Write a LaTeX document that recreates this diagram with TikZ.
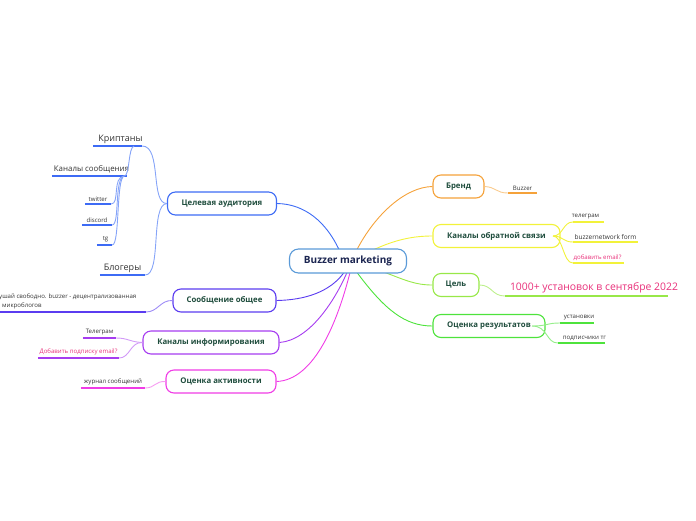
\documentclass[tikz,border=0pt]{standalone}
\usepackage{fontspec}
\setmainfont{Open Sans}
\definecolor{cBlue}{HTML}{3D6BF5}
\definecolor{cBlueL}{HTML}{86A4F8}
\definecolor{cInd}{HTML}{5B3CF0}
\definecolor{cIndL}{HTML}{9E8CF6}
\definecolor{cPur}{HTML}{A63CF0}
\definecolor{cPurL}{HTML}{D29AF7}
\definecolor{cMag}{HTML}{F03CE6}
\definecolor{cMagL}{HTML}{F69CF1}
\definecolor{cOr}{HTML}{F5A23A}
\definecolor{cOrL}{HTML}{F9CB8E}
\definecolor{cYel}{HTML}{F2F23A}
\definecolor{cYelL}{HTML}{F5F58A}
\definecolor{cLime}{HTML}{98E848}
\definecolor{cLimeL}{HTML}{BDF08C}
\definecolor{cGrn}{HTML}{4EE33C}
\definecolor{cGrnL}{HTML}{95EE8A}
\definecolor{cPink}{HTML}{E8307A}
\definecolor{cText}{HTML}{1F4D3D}
\definecolor{cRoot}{HTML}{5A9AD8}
\definecolor{cRootT}{HTML}{1A2450}
\definecolor{cLeafT}{HTML}{333333}
\tikzset{
  rootbox/.style={draw=cRoot, line width=1.1pt, fill=white, rounded corners=9pt, minimum height=24pt, text=cRootT, font=\bfseries\fontsize{10}{12}\selectfont},
  branch/.style={draw=#1, line width=1.1pt, fill=white, rounded corners=8pt, minimum height=23pt, text=cText, font=\bfseries\fontsize{7.8}{9}\selectfont},
  leaf/.style={anchor=south, inner xsep=0pt, inner ysep=2.5pt, text=cLeafT, font=\fontsize{6.1}{7.5}\selectfont},
  bigleaf/.style={leaf, font=\fontsize{9}{11}\selectfont},
  ul/.style={draw=#1, line width=1.6pt},
  conn/.style={draw=#1, line width=0.9pt},
}
\begin{document}
\begin{tikzpicture}[x=1pt,y=-1pt]
\useasboundingbox (0,0) rectangle (696,520);

% root connection points
\coordinate (r1) at (339,249.5);
\coordinate (r2) at (357,249.5);
\coordinate (r3) at (374,249.5);
\coordinate (r4) at (385,272.5);
\coordinate (r5) at (357,272.5);
\coordinate (r6) at (344,272.5);
\coordinate (r7) at (347,272.5);
\coordinate (r8) at (350,272.5);

% branches
\node[branch=cBlue, minimum width=109pt] (cel) at (222,203.5) {Целевая аудитория};
\node[branch=cInd, minimum width=103pt] (som) at (224.5,300.5) {Сообщение общее};
\node[branch=cPur, minimum width=136pt] (kin) at (211,342.5) {Каналы информирования};
\node[branch=cMag, minimum width=110pt] (oak) at (221,381.5) {Оценка активности};
\node[branch=cOr, minimum width=51pt] (brd) at (458.5,186.5) {Бренд};
\node[branch=cYel, minimum width=127pt] (kos) at (496.5,236) {Каналы обратной связи};
\node[branch=cLime, minimum width=46pt] (cel2) at (456,285) {Цель};
\node[branch=cGrn, minimum width=112pt] (ores) at (489,326) {Оценка результатов};

% root connectors
\draw[conn=cBlue] (cel.east) .. controls (305,204) and (326,222) .. (r1);
\draw[conn=cInd] (som.east) .. controls (305,300) and (330,292) .. (r6);
\draw[conn=cPur] (kin.east) .. controls (310,340) and (335,300) .. (r7);
\draw[conn=cMag] (oak.east) .. controls (315,380) and (338,320) .. (r8);
\draw[conn=cOr] (r2) .. controls (375,215) and (405,187) .. (brd.west);
\draw[conn=cYel] (r3) .. controls (395,240) and (412,236) .. (kos.west);
\draw[conn=cLime] (r4) .. controls (405,280) and (415,285) .. (cel2.west);
\draw[conn=cGrn] (r5) .. controls (385,310) and (405,326) .. (ores.west);

% root
\node[rootbox, minimum width=117pt] (root) at (348,261) {Buzzer marketing};

% ---- left leaves: Целевая аудитория
\node[bigleaf, minimum width=49pt] (kr) at (117.5,146) {\makebox[0pt]{\hspace*{6pt}Криптаны}};
\node[bigleaf, minimum width=75pt, font=\fontsize{7.9}{9.5}\selectfont] (ks) at (89.5,176) {\makebox[0pt]{\hspace*{4pt}Каналы сообщения}};
\node[leaf, minimum width=26pt] (tw) at (98,204) {twitter};
\node[leaf, minimum width=30pt] (dc) at (97,225) {discord};
\node[leaf, minimum width=15pt] (tg) at (104.5,245) {\hspace*{2pt}tg};
\node[bigleaf, minimum width=45pt] (bl) at (122.5,275) {Блогеры};
\foreach \n in {kr,ks,tw,dc,tg,bl} \draw[ul=cBlue] (\n.south west) -- (\n.south east);
\draw[conn=cBlueL] (cel.west) .. controls (150,204) and (162,146) .. (kr.south east);
\draw[conn=cBlueL] ([xshift=-8pt]kr.south east) .. controls (128,147) and (130,176) .. ([xshift=-3pt]ks.south east);
\draw[conn=cBlueL] ([xshift=-3pt]ks.south east) .. controls (112,177) and (120,204) .. (tw.south east);
\draw[conn=cBlueL] ([xshift=-3pt]ks.south east) .. controls (114,178) and (120,225) .. (dc.south east);
\draw[conn=cBlueL] ([xshift=-3pt]ks.south east) .. controls (116,178) and (120,245) .. (tg.south east);
\draw[conn=cBlueL] (cel.west) .. controls (150,204) and (162,275) .. (bl.south east);

% Сообщение общее
\node[leaf, anchor=south west, align=left, inner ysep=3pt, font=\fontsize{6.1}{8.8}\selectfont] (msg) at (-1,312) {ушай свободно. buzzer - децентрализованная\\\hspace*{3pt}микроблогов};
\coordinate (msgR) at (146,312);
\draw[ul=cInd] (0,312) -- (msgR);
\draw[conn=cIndL] (som.west) .. controls (160,300) and (158,312) .. (msgR);

% Каналы информирования
\node[leaf, minimum width=33pt] (tel) at (99.5,338) {Телеграм};
\node[leaf, minimum width=81pt, text=cPink] (dob) at (78.5,358) {Добавить подписку email?};
\foreach \n in {tel,dob} \draw[ul=cPur] (\n.south west) -- (\n.south east);
\draw[conn=cPurL] (kin.west) .. controls (130,342) and (128,338) .. (tel.south east);
\draw[conn=cPurL] (kin.west) .. controls (130,342) and (130,358) .. (dob.south east);

% Оценка активности
\node[leaf, minimum width=64pt] (jur) at (113,388) {журнал сообщений};
\draw[ul=cMag] (jur.south west) -- (jur.south east);
\draw[conn=cMagL] (oak.west) .. controls (155,381) and (155,388) .. (jur.south east);

% ---- right leaves
\node[leaf, minimum width=29pt] (buz) at (522.5,193) {Buzzer};
\draw[ul=cOr] (buz.south west) -- (buz.south east);
\draw[conn=cOrL] (brd.east) .. controls (496,187) and (496,193) .. (buz.south west);

\node[leaf, minimum width=31pt] (tlg) at (588.5,222) {\makebox[0pt]{\hspace*{-6pt}телеграм}};
\node[leaf, minimum width=65pt, font=\fontsize{6.5}{7.5}\selectfont] (bnf) at (605.5,242) {\makebox[0pt]{buzzernetwork form}};
\node[leaf, minimum width=51pt, text=cPink] (dem) at (598.5,263) {\makebox[0pt]{\hspace*{-2pt}добавить email?}};
\foreach \n in {tlg,bnf,dem} \draw[ul=cYel] (\n.south west) -- (\n.south east);
\coordinate (kosR) at (553,236);
\draw[conn=cYel] (kosR) .. controls (563,236) and (563,222) .. (tlg.south west);
\draw[conn=cYel] (kosR) .. controls (563,236) and (563,242) .. (bnf.south west);
\draw[conn=cYel] (kosR) .. controls (563,236) and (563,263) .. (dem.south west);

\node[bigleaf, minimum width=163pt, text=cPink, font=\fontsize{10.4}{12}\selectfont, inner ysep=3pt] (thou) at (586.5,296) {\makebox[0pt]{\hspace*{15pt}1000+ установок в сентябре 2022}};
\draw[ul=cLime] (thou.south west) -- (thou.south east);
\draw[conn=cLimeL] (cel2.east) .. controls (492,285) and (492,296) .. (thou.south west);

\node[leaf, minimum width=34pt] (ust) at (577,323) {\makebox[0pt]{\hspace*{4pt}установки}};
\node[leaf, minimum width=47pt] (pod) at (581.5,343) {\makebox[0pt]{\hspace*{6pt}подписчики тг}};
\foreach \n in {ust,pod} \draw[ul=cGrn] (\n.south west) -- (\n.south east);
\coordinate (oresR) at (532,326);
\draw[conn=cGrnL] (oresR) .. controls (548,326) and (546,323) .. (ust.south west);
\draw[conn=cGrnL] (oresR) .. controls (548,326) and (546,343) .. (pod.south west);
\end{tikzpicture}
\end{document}
